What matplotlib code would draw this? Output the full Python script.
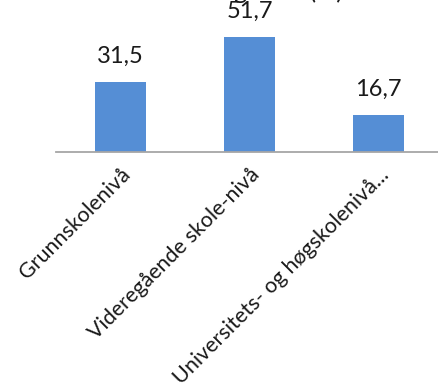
import matplotlib
matplotlib.use("Agg")
import matplotlib.pyplot as plt

# education level shares (%)
levels = ["Grunnskolenivå", "Videregående skole-nivå", "Universitets- og høgskolenivå..."]
shares = [31.5, 51.7, 16.7]
value_text = ["31,5", "51,7", "16,7"]
title = "Utdanningsnivå (%)"

plt.rcParams["font.family"] = ["Lato", "DejaVu Sans"]

fig = plt.figure(figsize=(4.39, 3.83), dpi=100)
ax = fig.add_axes([56 / 439, 1 - 152 / 383, 387 / 439, 152 / 383])

x = range(len(levels))
bars = ax.bar(x, shares, width=0.4, color="#558ed5")
ax.set_xlim(-0.5, 2.5)
ax.set_ylim(0, 68.3)

for rect, txt in zip(bars, value_text):
    ax.annotate(txt, (rect.get_x() + rect.get_width() / 2, rect.get_height()),
                xytext=(0, 11), textcoords="offset points",
                ha="center", va="bottom", fontsize=17, color="#1a1a1a")

for side in ["top", "right", "left"]:
    ax.spines[side].set_visible(False)
ax.spines["bottom"].set_color("#a6a6a6")
ax.spines["bottom"].set_linewidth(1.3)
ax.set_yticks([])
ax.set_xticks(list(x))
ax.set_xticklabels(levels, rotation=45, ha="right", rotation_mode="anchor",
                   fontsize=15.5, color="#1a1a1a")
ax.tick_params(axis="x", length=0, pad=9)

# title sits above the top edge, only descenders show
fig.text(343 / 439, 1 + 1 / 383, title, ha="right", va="baseline",
         fontsize=18, color="#1a1a1a")

fig.savefig("out.png", dpi=100)
